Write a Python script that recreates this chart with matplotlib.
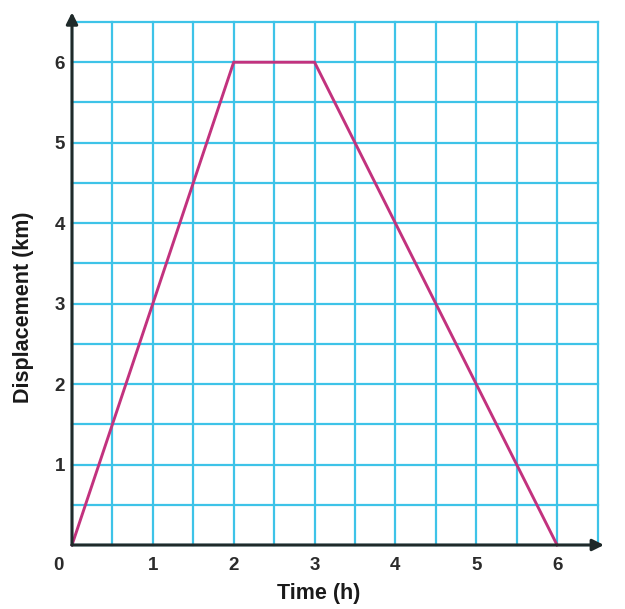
import matplotlib
matplotlib.use("Agg")
import matplotlib.pyplot as plt
import numpy as np

time_h = [0, 2, 3, 6]
displacement_km = [0, 6, 6, 0]
x_ticks = [1, 2, 3, 4, 5, 6]
y_ticks = [1, 2, 3, 4, 5, 6]
grid_vals = np.arange(0, 6.51, 0.5)

plt.rcParams['font.family'] = ['Liberation Sans', 'DejaVu Sans']

fig = plt.figure(figsize=(6.25, 6.09), dpi=100)
ax = fig.add_axes([72/625, 64/609, (597.5-72)/625, (545-22)/609])
ax.set_xlim(0, 6.5)
ax.set_ylim(0, 6.5)

grid_color = '#3EC3E8'
for g in grid_vals:
    ax.plot([g, g], [0, 6.5], color=grid_color, lw=1.6, clip_on=False, zorder=1)
    ax.plot([0, 6.5], [g, g], color=grid_color, lw=1.6, clip_on=False, zorder=1)

ax.plot(time_h, displacement_km, color='#C2327E', lw=2.1, zorder=3, clip_on=False,
        solid_joinstyle='miter')

for s in ax.spines.values():
    s.set_visible(False)

axis_color = '#1F2A2A'
ax.annotate('', xy=(6.58, 0), xytext=(0, 0),
            arrowprops=dict(arrowstyle='-|>', color=axis_color, lw=2.2,
                            mutation_scale=17, shrinkA=0, shrinkB=0),
            annotation_clip=False, zorder=4)
ax.annotate('', xy=(0, 6.62), xytext=(0, 0),
            arrowprops=dict(arrowstyle='-|>', color=axis_color, lw=2.2,
                            mutation_scale=17, shrinkA=0, shrinkB=0),
            annotation_clip=False, zorder=4)

ax.set_xticks(x_ticks)
ax.set_yticks(y_ticks)
ax.set_xticklabels([str(v) for v in x_ticks])
ax.set_yticklabels([str(v) for v in y_ticks])
ax.tick_params(axis='x', length=0, pad=9, labelsize=13.5, labelcolor='#2B2B2B')
ax.tick_params(axis='y', length=0, pad=5, labelsize=13.5, labelcolor='#2B2B2B')
for lab in ax.get_xticklabels() + ax.get_yticklabels():
    lab.set_fontweight('bold')

ax.text(-0.17, -0.25, '0', ha='center', va='center', fontsize=13.5,
        fontweight='bold', color='#2B2B2B', clip_on=False)

ax.set_xlabel('Time (h)', fontsize=15.5, fontweight='bold', color='#1A1A1A')
ax.set_ylabel('Displacement (km)', fontsize=15.5, fontweight='bold', color='#1A1A1A')
ax.xaxis.set_label_coords(3.05/6.5, -0.072)
ax.yaxis.set_label_coords(-0.072, 0.455)

fig.savefig('out.png', dpi=100, facecolor='white')
